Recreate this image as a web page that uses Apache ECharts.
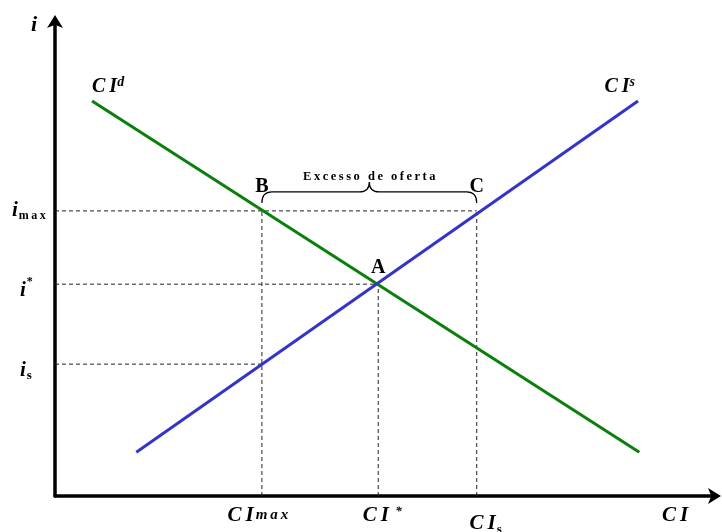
<!DOCTYPE html>
<html>
<head>
<meta charset="utf-8">
<script src="https://cdn.jsdelivr.net/npm/echarts@6/dist/echarts.min.js"></script>
<style>
html, body { margin: 0; padding: 0; background: #fff; }
#chart { width: 722px; height: 532px; }
</style>
</head>
<body>
<div id="chart"></div>
<script>
// demand curve CI^d, two end points
const demandLine = [[5.6, 83.0], [88.4, 9.2]]
// supply curve CI^s, two end points
const supplyLine = [[12.3, 9.2], [88.2, 83.0]]
// points on the curves
const pointNames = ['B', 'A', 'C']
const pointX = [31.3, 48.9, 63.8]
const pointY = [59.9, 44.5, 59.9]
// y-axis ticks: i_s, i*, i_max
const iTicks = [27.7, 44.5, 59.9]
const iTickLabels = ['{i|i}{sub|s}', '{i|i}{sup|*}', '{iw|i}{max|m\u2009a\u2009x}']
// x-axis ticks: CImax, CI*, CIs, CI
const ciTicks = [31.3, 48.9, 63.8, 93.8]
const ciTickLabels = [
  '{c|C}{ci|I}{small|m\u2009a\u2009x}{padR|}',
  '{padS|}{c|C}{ci|I}{sup|\u2002*}',
  '{padL|}{cLow|C}{ciLow|I}{subLow|s}',
  '{c|C}{ci|I}'
]
const braceText = 'Excesso de oferta'

const serif = '"Liberation Serif", "Times New Roman", serif'
const bi = { fontFamily: serif, fontWeight: 'bold', fontStyle: 'italic', color: '#000' }

const chart = echarts.init(document.getElementById('chart'))

// dashed guide lines
const guides = [
  [[0, pointY[0]], [pointX[2], pointY[0]]],
  [[0, pointY[1]], [pointX[1], pointY[1]]],
  [[0, iTicks[0]], [pointX[0], iTicks[0]]],
  [[pointX[0], 0], [pointX[0], pointY[0]]],
  [[pointX[1], 0], [pointX[1], pointY[1]]],
  [[pointX[2], 0], [pointX[2], pointY[2]]]
]

const guideSeries = guides.map(d => ({
  type: 'line',
  data: d,
  symbol: 'none',
  silent: true,
  z: 1,
  lineStyle: { color: '#222', width: 1, type: [4, 3] }
}))

const pointLabels = pointNames.map((n, k) => ({
  value: [pointX[k], pointY[k]],
  label: {
    show: true,
    formatter: n,
    position: 'top',
    distance: n === 'A' ? 6 : 14,
    fontFamily: serif,
    fontWeight: 'bold',
    fontSize: 20,
    color: '#000'
  }
}))

const curveRich = {
  c: { ...bi, fontSize: 20, lineHeight: 24, padding: [0, 4, 0, 0] },
  ci: { ...bi, fontSize: 20, lineHeight: 24 },
  sup: { ...bi, fontSize: 14, verticalAlign: 'top', lineHeight: 24 }
}

const option = {
  animation: false,
  grid: { left: 55, right: 6, top: 20, bottom: 36, outerBoundsMode: 'none' },
  xAxis: {
    type: 'value',
    min: 0,
    max: 100,
    splitLine: { show: false },
    axisLine: {
      lineStyle: { color: '#000', width: 3.5 },
      symbol: ['none', 'arrow'],
      symbolSize: [12, 13],
      symbolOffset: [0, 5]
    },
    axisTick: { show: false },
    axisLabel: {
      customValues: ciTicks,
      margin: 9,
      formatter: v => ciTickLabels[ciTicks.indexOf(v)] || '',
      rich: {
        c: { ...bi, fontSize: 21, padding: [0, 4, 0, 0] },
        ci: { ...bi, fontSize: 21 },
        small: { ...bi, fontSize: 15, padding: [0, 0, 0, 2] },
        sup: { ...bi, fontSize: 13, verticalAlign: 'top' },
        cLow: { ...bi, fontSize: 21, padding: [6, 4, 0, 0] },
        ciLow: { ...bi, fontSize: 21, padding: [6, 0, 0, 0] },
        subLow: { fontFamily: serif, fontWeight: 'bold', fontSize: 13, padding: [18, 0, 0, 1], color: '#000' },
        padL: { width: 18 },
        padS: { width: 8 },
        padR: { width: 8 }
      }
    }
  },
  yAxis: {
    type: 'value',
    min: 0,
    max: 100,
    name: 'i',
    nameLocation: 'end',
    nameGap: -16,
    nameTextStyle: { ...bi, fontSize: 22, align: 'right', padding: [0, 18, 0, 0] },
    splitLine: { show: false },
    axisLine: {
      lineStyle: { color: '#000', width: 3.5 },
      symbol: ['none', 'arrow'],
      symbolSize: [12, 13],
      symbolOffset: [0, 5]
    },
    axisTick: { show: false },
    axisLabel: {
      customValues: iTicks,
      align: 'left',
      margin: 43,
      formatter: v => iTickLabels[iTicks.indexOf(v)] || '',
      rich: {
        i: { ...bi, fontSize: 21, padding: [12, 0, 0, 8] },
        iw: { ...bi, fontSize: 21 },
        sub: { fontFamily: serif, fontWeight: 'bold', fontSize: 13, padding: [22, 0, 0, 1], color: '#000' },
        sup: { fontFamily: serif, fontWeight: 'bold', fontSize: 12, padding: [0, 0, 4, 1], color: '#000' },
        max: { fontFamily: serif, fontWeight: 'bold', fontSize: 12, padding: [10, 0, 0, 1], color: '#000' }
      }
    }
  },
  series: [
    ...guideSeries,
    {
      type: 'line',
      data: demandLine,
      symbol: 'none',
      z: 3,
      lineStyle: { color: '#0b7f0b', width: 3 }
    },
    {
      type: 'line',
      data: supplyLine,
      symbol: 'none',
      z: 3,
      lineStyle: { color: '#3434c8', width: 3 }
    },
    {
      type: 'scatter',
      symbolSize: 0,
      itemStyle: { color: '#000', opacity: 1 },
      z: 4,
      data: [
        ...pointLabels,
        {
          value: demandLine[0],
          label: { show: true, color: '#000', formatter: '{c|C}{ci|I}{sup|d}', position: 'top', align: 'left', distance: 2, rich: curveRich }
        },
        {
          value: supplyLine[1],
          label: { show: true, color: '#000', formatter: '{c|C}{ci|I}{sup|s}', position: 'top', align: 'right', distance: 2, offset: [-3, 0], rich: curveRich }
        }
      ]
    },
    {
      // curly brace over B..C
      type: 'custom',
      z: 4,
      encode: { x: [0, 1], y: 2 },
      data: [[pointX[0], pointX[2], pointY[0]]],
      renderItem: (params, api) => {
        const p1 = api.coord([api.value(0), api.value(2)])
        const p2 = api.coord([api.value(1), api.value(2)])
        const x1 = p1[0], x2 = p2[0]
        const base = p1[1] - 8
        const top = base - 11
        const peak = base - 21
        const xm = (x1 + x2) / 2
        const r = 10
        const d = `M${x1},${base} Q${x1},${top} ${x1 + r},${top} L${xm - r},${top} Q${xm},${top} ${xm},${peak} ` +
          `Q${xm},${top} ${xm + r},${top} L${x2 - r},${top} Q${x2},${top} ${x2},${base}`
        return {
          type: 'group',
          children: [
            { type: 'path', shape: { pathData: d }, style: { fill: 'none', stroke: '#000', lineWidth: 1.2 } },
            {
              type: 'text',
              x: xm,
              y: peak + 1,
              style: {
                text: braceText.split('').join('\u2009'),
                align: 'center',
                verticalAlign: 'bottom',
                font: 'bold 12.5px ' + serif,
                fill: '#000'
              }
            }
          ]
        }
      }
    }
  ]
}

chart.setOption(option)
</script>
</body>
</html>
